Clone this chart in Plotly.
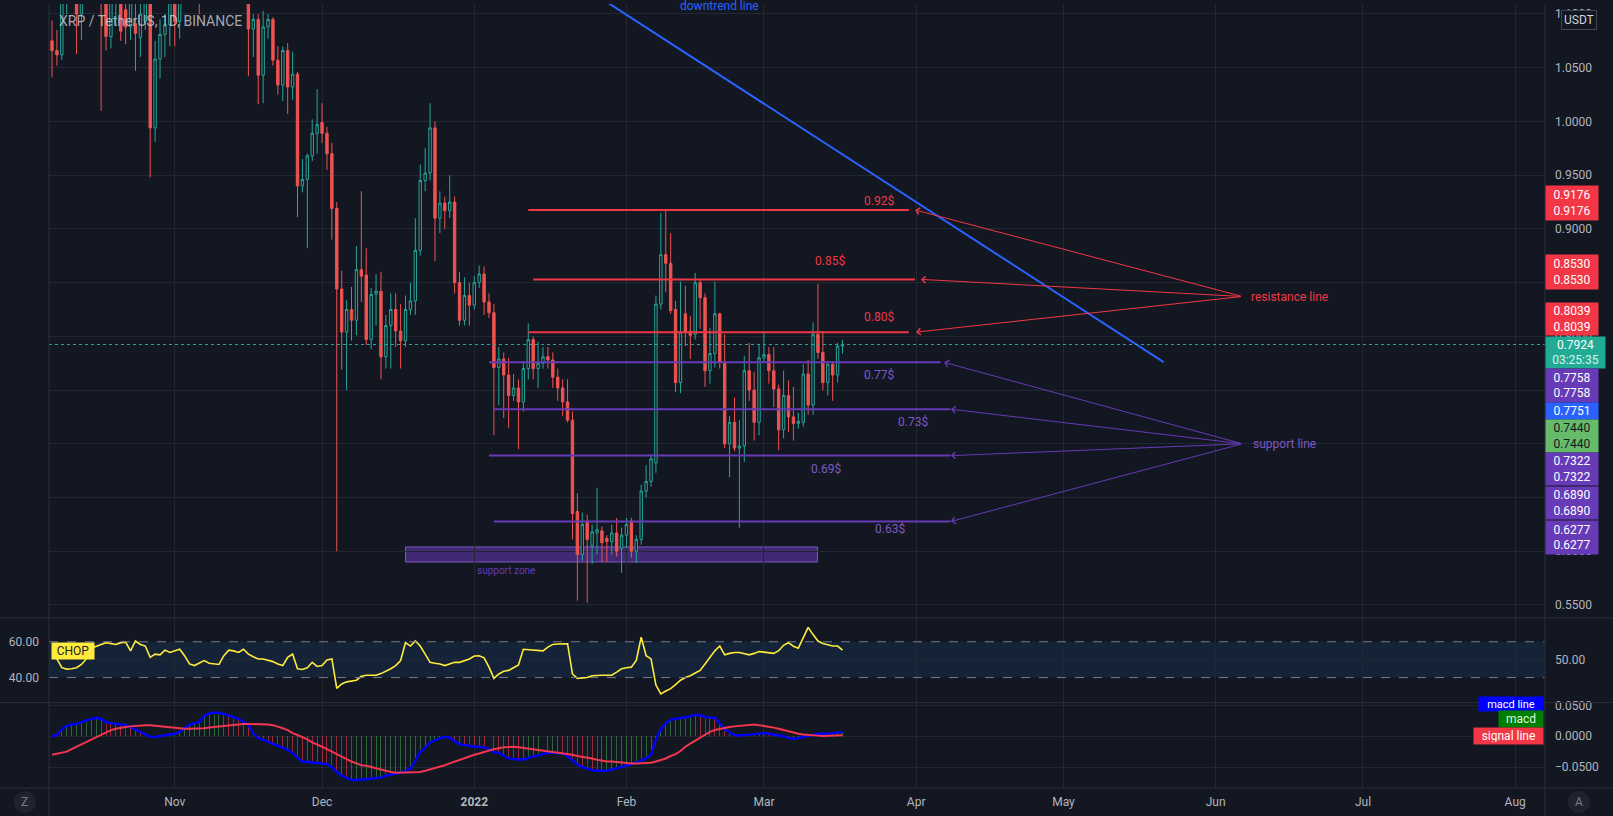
import pandas as pd
import plotly.graph_objects as go

# ---------------- data ----------------
first_day = "2021-10-07"

open_ = [1.075, 1.066, 1.062, 1.125, 1.140, 1.150, 1.100, 1.130, 1.150, 1.135,
         1.125, 1.115, 1.079, 1.115, 1.125, 1.104, 1.088, 1.091, 1.078, 1.093,
         1.115, 0.994, 1.058, 1.081, 1.090, 1.120, 1.093, 1.140, 1.150, 1.190,
         1.180, 1.160, 1.220, 1.245, 1.260, 1.250, 1.200, 1.220, 1.230, 1.210,
         1.175, 1.086, 1.095, 1.043, 1.088, 1.095, 1.057, 1.034, 1.066, 1.032,
         1.044, 0.940, 0.946, 0.968, 0.989, 0.999, 0.989, 0.970, 0.919, 0.844,
         0.804, 0.825, 0.815, 0.862, 0.857, 0.797, 0.839, 0.842, 0.781, 0.810,
         0.825, 0.805, 0.796, 0.825, 0.833, 0.880, 0.945, 0.952, 0.994, 0.910,
         0.924, 0.917, 0.925, 0.850, 0.815, 0.838, 0.829, 0.850, 0.858, 0.832,
         0.822, 0.771, 0.779, 0.764, 0.745, 0.752, 0.739, 0.770, 0.797, 0.770,
         0.775, 0.781, 0.778, 0.762, 0.752, 0.739, 0.722, 0.637, 0.597, 0.628,
         0.605, 0.617, 0.619, 0.612, 0.609, 0.617, 0.603, 0.615, 0.628, 0.600,
         0.611, 0.656, 0.665, 0.682, 0.830, 0.876, 0.868, 0.825, 0.757, 0.821,
         0.805, 0.802, 0.850, 0.836, 0.768, 0.784, 0.821, 0.776, 0.700, 0.720,
         0.696, 0.698, 0.768, 0.750, 0.720, 0.780, 0.783, 0.768, 0.751, 0.713,
         0.745, 0.725, 0.719, 0.720, 0.765, 0.736, 0.802, 0.785, 0.757, 0.774,
         0.764, 0.791]
high_ = [1.094, 1.085, 1.135, 1.150, 1.160, 1.155, 1.140, 1.165, 1.170, 1.150,
         1.140, 1.125, 1.125, 1.140, 1.135, 1.112, 1.120, 1.115, 1.112, 1.125,
         1.125, 1.075, 1.095, 1.100, 1.125, 1.130, 1.150, 1.165, 1.200, 1.215,
         1.195, 1.230, 1.260, 1.280, 1.350, 1.270, 1.240, 1.250, 1.240, 1.220,
         1.185, 1.100, 1.100, 1.103, 1.100, 1.097, 1.070, 1.070, 1.073, 1.065,
         1.046, 0.965, 0.970, 1.002, 1.030, 1.017, 0.995, 0.980, 0.925, 0.861,
         0.834, 0.846, 0.884, 0.935, 0.882, 0.845, 0.858, 0.860, 0.820, 0.840,
         0.840, 0.830, 0.838, 0.850, 0.910, 0.960, 0.975, 1.017, 1.000, 0.935,
         0.930, 0.950, 0.930, 0.860, 0.855, 0.850, 0.856, 0.866, 0.865, 0.840,
         0.830, 0.790, 0.785, 0.780, 0.765, 0.760, 0.777, 0.812, 0.800, 0.795,
         0.790, 0.790, 0.785, 0.770, 0.760, 0.760, 0.730, 0.654, 0.636, 0.634,
         0.625, 0.659, 0.623, 0.615, 0.625, 0.631, 0.622, 0.631, 0.631, 0.615,
         0.662, 0.680, 0.690, 0.838, 0.915, 0.9176, 0.896, 0.833, 0.851, 0.847,
         0.819, 0.859, 0.853, 0.840, 0.808, 0.851, 0.822, 0.802, 0.726, 0.743,
         0.722, 0.782, 0.794, 0.767, 0.793, 0.804, 0.790, 0.790, 0.755, 0.768,
         0.759, 0.753, 0.729, 0.774, 0.778, 0.813, 0.849, 0.805, 0.777, 0.777,
         0.794, 0.797]
low_ = [1.041, 1.052, 1.057, 1.100, 1.110, 1.063, 1.076, 1.115, 1.120, 1.110,
        1.010, 1.066, 1.068, 1.090, 1.075, 1.072, 1.076, 1.047, 1.060, 1.085,
        0.948, 0.981, 1.040, 1.060, 1.070, 1.070, 1.077, 1.120, 1.130, 1.160,
        1.100, 1.150, 1.200, 1.220, 1.230, 1.160, 1.180, 1.200, 1.190, 1.150,
        1.042, 1.060, 1.016, 1.017, 1.077, 1.052, 1.025, 1.019, 1.007, 1.020,
        0.911, 0.934, 0.882, 0.963, 0.970, 0.980, 0.955, 0.890, 0.600, 0.769,
        0.750, 0.796, 0.801, 0.832, 0.792, 0.788, 0.810, 0.760, 0.770, 0.770,
        0.790, 0.770, 0.790, 0.820, 0.820, 0.875, 0.935, 0.945, 0.870, 0.896,
        0.900, 0.910, 0.840, 0.810, 0.810, 0.810, 0.825, 0.845, 0.820, 0.817,
        0.708, 0.736, 0.724, 0.715, 0.740, 0.695, 0.730, 0.760, 0.760, 0.752,
        0.770, 0.770, 0.752, 0.740, 0.726, 0.720, 0.611, 0.554, 0.591, 0.552,
        0.588, 0.597, 0.590, 0.590, 0.597, 0.595, 0.580, 0.603, 0.594, 0.589,
        0.606, 0.650, 0.660, 0.673, 0.825, 0.841, 0.821, 0.748, 0.747, 0.791,
        0.779, 0.797, 0.807, 0.753, 0.756, 0.771, 0.770, 0.696, 0.669, 0.693,
        0.622, 0.683, 0.740, 0.703, 0.708, 0.776, 0.756, 0.734, 0.694, 0.705,
        0.711, 0.703, 0.714, 0.716, 0.727, 0.727, 0.779, 0.750, 0.745, 0.740,
        0.757, 0.784]
close_ = [1.066, 1.062, 1.125, 1.140, 1.150, 1.100, 1.130, 1.150, 1.135, 1.125,
          1.115, 1.079, 1.115, 1.125, 1.084, 1.088, 1.112, 1.082, 1.100, 1.115,
          0.994, 1.058, 1.081, 1.090, 1.115, 1.093, 1.140, 1.150, 1.190, 1.180,
          1.160, 1.220, 1.245, 1.260, 1.250, 1.200, 1.220, 1.230, 1.210, 1.175,
          1.086, 1.095, 1.043, 1.088, 1.095, 1.057, 1.034, 1.066, 1.032, 1.044,
          0.940, 0.946, 0.968, 0.989, 0.997, 0.989, 0.970, 0.919, 0.844, 0.804,
          0.825, 0.815, 0.862, 0.856, 0.797, 0.839, 0.842, 0.781, 0.810, 0.825,
          0.805, 0.796, 0.825, 0.833, 0.880, 0.945, 0.952, 0.994, 0.910, 0.924,
          0.917, 0.925, 0.850, 0.815, 0.838, 0.829, 0.850, 0.858, 0.832, 0.822,
          0.771, 0.779, 0.764, 0.745, 0.752, 0.739, 0.770, 0.797, 0.770, 0.775,
          0.781, 0.778, 0.762, 0.752, 0.739, 0.722, 0.635, 0.597, 0.625, 0.611,
          0.618, 0.620, 0.608, 0.609, 0.617, 0.600, 0.615, 0.625, 0.600, 0.611,
          0.656, 0.665, 0.686, 0.830, 0.876, 0.868, 0.824, 0.757, 0.804, 0.804,
          0.801, 0.850, 0.836, 0.768, 0.784, 0.821, 0.776, 0.700, 0.720, 0.696,
          0.698, 0.768, 0.750, 0.720, 0.780, 0.783, 0.768, 0.751, 0.713, 0.745,
          0.725, 0.719, 0.721, 0.765, 0.736, 0.802, 0.785, 0.757, 0.774, 0.764,
          0.791, 0.7924]

chop = [54, 50.4, 45.5, 44.7, 44.9, 45.5, 47.3, 50.4, 56.4, 57.6,
        58.5, 59.5, 58.9, 58.5, 59.5, 59.8, 54.9, 60.4, 58.5, 57.6,
        51.3, 53.1, 52.7, 55.3, 54, 54.9, 55.8, 52.2, 47.6, 46.7,
        48, 49.5, 48, 47.6, 47.3, 52.2, 55.3, 54.9, 54, 55.8,
        53.1, 51.6, 50.4, 50.4, 49.8, 48.9, 47.6, 46.7, 51.3, 53.1,
        44.9, 44.5, 45.5, 48.5, 46.2, 46.7, 49.8, 50.4, 34, 36.4,
        37.6, 38, 38.5, 40.7, 41.3, 41.3, 41.3, 42.2, 43.5, 44.9,
        46.7, 49.5, 59.5, 57.6, 60.4, 57.6, 53.1, 48.5, 48, 47.6,
        46.7, 47.5, 48.5, 48.5, 49.5, 50.4, 52, 52.2, 51, 45.8,
        39.5, 42, 43.5, 44, 45.5, 47, 55.8, 55.5, 55.3, 55,
        54.9, 57, 58.5, 58.7, 58.8, 58.9, 42, 39.5, 39.8, 40,
        41, 41.3, 41.3, 41.3, 41.3, 43, 44.9, 45.5, 45.8, 49.5,
        62.5, 52.2, 50.4, 35.8, 30.9, 32.5, 33.8, 36, 38.5, 40,
        41, 42.5, 44, 47.6, 51, 54.9, 57.6, 52.7, 53.5, 54,
        54, 53.5, 52.7, 53.5, 54.5, 54.2, 54, 53.5, 55, 58,
        59.5, 57.5, 56.4, 62, 68, 64, 60.4, 59, 58.2, 57.6,
        57.6, 55.3]

macd_line = [0.000, 0.002, 0.012, 0.017, 0.019, 0.020, 0.023, 0.026, 0.028, 0.030,
             0.028, 0.023, 0.021, 0.020, 0.019, 0.018, 0.015, 0.011, 0.008, 0.004,
             -0.001, -0.001, 0.000, 0.001, 0.002, 0.004, 0.007, 0.013, 0.019, 0.021,
             0.023, 0.033, 0.037, 0.038, 0.038, 0.036, 0.034, 0.031, 0.028, 0.024,
             0.019, 0.004, -0.003, -0.006, -0.009, -0.012, -0.015, -0.019, -0.022, -0.027,
             -0.035, -0.041, -0.042, -0.043, -0.043, -0.044, -0.045, -0.050, -0.058, -0.064,
             -0.068, -0.071, -0.071, -0.070, -0.070, -0.069, -0.068, -0.067, -0.064, -0.062,
             -0.060, -0.059, -0.057, -0.052, -0.040, -0.025, -0.019, -0.010, -0.006, -0.003,
             -0.001, -0.002, -0.008, -0.013, -0.014, -0.016, -0.017, -0.017, -0.018, -0.021,
             -0.026, -0.027, -0.031, -0.036, -0.037, -0.038, -0.038, -0.035, -0.033, -0.031,
             -0.029, -0.027, -0.027, -0.027, -0.028, -0.032, -0.039, -0.046, -0.050, -0.053,
             -0.055, -0.056, -0.056, -0.056, -0.054, -0.052, -0.050, -0.047, -0.045, -0.043,
             -0.039, -0.036, -0.030, -0.005, 0.012, 0.021, 0.027, 0.028, 0.029, 0.030,
             0.032, 0.035, 0.034, 0.031, 0.031, 0.030, 0.021, 0.011, 0.006, 0.002,
             0.001, 0.002, 0.002, 0.003, 0.005, 0.005, 0.004, 0.003, 0.002, 0.000,
             -0.003, -0.004, -0.003, -0.001, 0.001, 0.003, 0.004, 0.004, 0.004, 0.005,
             0.006, 0.007]
signal_line = [-0.030, -0.028, -0.026, -0.025, -0.021, -0.017, -0.013, -0.009, -0.005, -0.001,
               0.003, 0.006, 0.010, 0.012, 0.014, 0.015, 0.016, 0.017, 0.0175, 0.018,
               0.018, 0.017, 0.016, 0.015, 0.014, 0.013, 0.0125, 0.012, 0.012, 0.012,
               0.012, 0.013, 0.014, 0.015, 0.016, 0.017, 0.018, 0.019, 0.020, 0.020,
               0.020, 0.020, 0.020, 0.020, 0.019, 0.018, 0.016, 0.013, 0.010, 0.005,
               0.002, -0.001, -0.005, -0.010, -0.013, -0.017, -0.021, -0.025, -0.029, -0.033,
               -0.038, -0.041, -0.044, -0.047, -0.048, -0.050, -0.053, -0.055, -0.057, -0.058,
               -0.059, -0.059, -0.059, -0.059, -0.059, -0.058, -0.056, -0.054, -0.052, -0.049,
               -0.047, -0.044, -0.041, -0.038, -0.036, -0.033, -0.030, -0.028, -0.025, -0.023,
               -0.021, -0.019, -0.018, -0.0175, -0.017, -0.018, -0.019, -0.020, -0.021, -0.022,
               -0.023, -0.025, -0.026, -0.027, -0.028, -0.029, -0.030, -0.032, -0.033, -0.035,
               -0.036, -0.038, -0.040, -0.041, -0.041, -0.042, -0.043, -0.044, -0.044, -0.044,
               -0.044, -0.044, -0.043, -0.041, -0.039, -0.036, -0.032, -0.029, -0.024, -0.017,
               -0.012, -0.007, -0.002, 0.003, 0.007, 0.010, 0.012, 0.014, 0.015, 0.016,
               0.017, 0.018, 0.0185, 0.019, 0.018, 0.017, 0.016, 0.014, 0.012, 0.010,
               0.008, 0.005, 0.004, 0.003, 0.002, 0.0015, 0.001, 0.0005, 0.0005, 0.001,
               0.0015, 0.0016]

month_ticks = ["2021-11-01", "2021-12-01", "2022-01-01", "2022-02-01", "2022-03-01",
               "2022-04-01", "2022-05-01", "2022-06-01", "2022-07-01", "2022-08-01"]
month_labels = ["Nov", "Dec", "<b>2022</b>", "Feb", "Mar", "Apr", "May", "Jun", "Jul", "Aug"]
price_ticks = [0.55, 0.60, 0.65, 0.70, 0.75, 0.80, 0.85, 0.90, 0.95, 1.00, 1.05, 1.10]
chop_bounds = [40, 60]
chop_mid = [50]
macd_ticks = [-0.05, 0, 0.05]

resistance_levels = [0.9176, 0.8530, 0.8039]
resistance_names = ["0.92$", "0.85$", "0.80$"]
support_levels = [0.7758, 0.7322, 0.6890, 0.6277]
support_names = ["0.77$", "0.73$", "0.69$", "0.63$"]
support_zone_low, support_zone_high = 0.590, 0.604
last_price = 0.7924
countdown = "03:25:35"
blue_level = 0.7751
green_level = 0.7440

# ---------------- drawing geometry (TradingView drawing anchors) ----------------
res_start = ["2022-01-12", "2022-01-13", "2022-01-12"]
res_end = ["2022-03-30 12:00", "2022-03-31 18:00", "2022-03-30 12:00"]
res_tip = ["2022-03-31 19:00", "2022-04-02", "2022-04-01"]
res_label_pos = [("2022-03-24 10:00", 0.926), ("2022-03-14 12:00", 0.8704), ("2022-03-24 10:00", 0.8176)]
sup_start = ["2022-01-04", "2022-01-05", "2022-01-04", "2022-01-05"]
sup_end = ["2022-04-06", "2022-04-08", "2022-04-08", "2022-04-08"]
sup_tip = ["2022-04-06 17:00", "2022-04-08 02:00", "2022-04-08 02:00", "2022-04-08 02:00"]
sup_label_pos = [("2022-03-24 10:00", 0.7639), ("2022-03-31 10:00", 0.7204),
                 ("2022-03-13 14:00", 0.6769), ("2022-03-26 17:00", 0.6204)]
arrow_tail_x = "2022-06-06 10:00"
res_tail_y, sup_tail_y = 0.8371, 0.7000
res_text_pos = ("2022-06-16", 0.8362)
sup_text_pos = ("2022-06-14 22:00", 0.7000)
zone_x = ("2021-12-18", "2022-03-11 22:00")
zone_text_pos = ("2022-01-07 12:00", 0.5825)
trend_x = ["2022-01-15", "2022-05-21 10:00"]
trend_y = [1.1495, 0.776]
trend_text_x = "2022-02-20"

# ---------------- styling / geometry ----------------
BG = "#131722"
GRID = "#232731"
SEP = "#2a2e39"
TXT = "#b2b5be"
FONT = "Roboto, 'Noto Sans', sans-serif"
UP, DOWN = "#26a69a", "#ef5350"
RED, PURPLE = "#f23645", "#673ab7"

W, H = 1613, 816
ML, MR, MT, MB = 49, 68, 0, 28
PW, PH = W - ML - MR, H - MT - MB


def pxx(x):
    return (x - ML) / PW


def pxy(y):
    return 1 - (y - MT) / PH


main_dom = [pxy(617), 1]
chop_dom = [pxy(702), pxy(617)]
macd_dom = [0, pxy(702)]
x_range = ["2021-10-06 09:20", "2022-08-07 01:45"]
chop_range = [26.1, 73.33]

dates = pd.date_range(first_day, periods=len(open_), freq="D")

fig = go.Figure()

fig.add_trace(go.Candlestick(
    x=dates, open=open_, high=high_, low=low_, close=close_,
    increasing=dict(line=dict(color=UP, width=1), fillcolor=BG),
    decreasing=dict(line=dict(color=DOWN, width=1), fillcolor=DOWN),
    whiskerwidth=0, xaxis="x", yaxis="y", hoverinfo="skip", showlegend=False))

# horizontal drawings
rx, ry = [], []
for s, e, lv in zip(res_start, res_end, resistance_levels):
    rx += [s, e, None]
    ry += [lv, lv, None]
fig.add_trace(go.Scatter(x=rx, y=ry, mode="lines", line=dict(color=RED, width=2),
                         xaxis="x", yaxis="y", hoverinfo="skip", showlegend=False))
sx, sy = [], []
for s, e, lv in zip(sup_start, sup_end, support_levels):
    sx += [s, e, None]
    sy += [lv, lv, None]
fig.add_trace(go.Scatter(x=sx, y=sy, mode="lines", line=dict(color=PURPLE, width=2),
                         xaxis="x", yaxis="y", hoverinfo="skip", showlegend=False))
fig.add_trace(go.Scatter(x=trend_x, y=trend_y, mode="lines", line=dict(color="#2962ff", width=2),
                         xaxis="x", yaxis="y", hoverinfo="skip", showlegend=False))

# CHOP
fig.add_trace(go.Scatter(x=dates, y=chop, mode="lines", line=dict(color="#ffeb3b", width=1.6),
                         xaxis="x2", yaxis="y2", hoverinfo="skip", showlegend=False))
# carrier for the right-hand CHOP scale
fig.add_trace(go.Scatter(x=dates, y=chop, mode="lines", line=dict(color="rgba(0,0,0,0)", width=0),
                         xaxis="x2", yaxis="y4", hoverinfo="skip", showlegend=False))

# MACD
hist_colors = []
for k, v in enumerate(macd_line):
    prev = macd_line[k - 1] if k > 0 else v
    hist_colors.append("rgba(56,160,70,0.6)" if v >= prev else "rgba(242,54,69,0.6)")
fig.add_trace(go.Bar(x=dates, y=macd_line, marker=dict(color=hist_colors, line=dict(width=0)),
                     width=0.2 * 86400000, xaxis="x3", yaxis="y3", hoverinfo="skip", showlegend=False))
fig.add_trace(go.Scatter(x=dates, y=macd_line, mode="lines", line=dict(color="#0000ff", width=2.4),
                         xaxis="x3", yaxis="y3", hoverinfo="skip", showlegend=False))
fig.add_trace(go.Scatter(x=dates, y=signal_line, mode="lines", line=dict(color="#f23650", width=2),
                         xaxis="x3", yaxis="y3", hoverinfo="skip", showlegend=False))

shapes = []
# support zone
shapes.append(dict(type="rect", xref="x", yref="y", x0=zone_x[0], x1=zone_x[1],
                   y0=support_zone_low, y1=support_zone_high, layer="below",
                   fillcolor="rgba(103,58,183,0.55)", line=dict(color="#7e57c2", width=1)))
# last price dotted line
shapes.append(dict(type="line", xref="paper", yref="y", x0=0, x1=1, y0=last_price, y1=last_price,
                   line=dict(color="#26a69a", width=1, dash="dot"), layer="above"))
# CHOP band and dashed bounds
shapes.append(dict(type="rect", xref="paper", yref="y2", x0=0, x1=1, y0=chop_bounds[0], y1=chop_bounds[1],
                   fillcolor="rgba(33,150,243,0.1)", line=dict(width=0), layer="below"))
for lv in chop_bounds:
    shapes.append(dict(type="line", xref="paper", yref="y2", x0=0, x1=1, y0=lv, y1=lv,
                       line=dict(color="#787b86", width=1, dash="dash")))
# pane separators and borders
for y in (617, 702, 788):
    shapes.append(dict(type="line", xref="paper", yref="paper", x0=pxx(0), x1=pxx(W),
                       y0=pxy(y), y1=pxy(y), line=dict(color=SEP, width=1)))
for x in (ML, W - MR):
    shapes.append(dict(type="line", xref="paper", yref="paper", x0=pxx(x), x1=pxx(x),
                       y0=pxy(0), y1=pxy(H), line=dict(color=SEP, width=1)))
# Z / A buttons
for cx in (25, 1579):
    shapes.append(dict(type="circle", xref="paper", yref="paper", x0=pxx(cx - 11), x1=pxx(cx + 11),
                       y0=pxy(813), y1=pxy(791), fillcolor="#1f232e", line=dict(width=0)))

ann = []


def box(text, cy, bg, fg="#ffffff", w=48, h=13, x=1.0, anchor="left", size=12):
    ann.append(dict(text=text, xref="paper", yref="paper", x=x, y=pxy(cy), xanchor=anchor,
                    yanchor="middle", showarrow=False, bgcolor=bg, borderpad=2, width=w, height=h,
                    font=dict(family=FONT, size=size, color=fg), align="center"))


def two(v):
    return f"{v:.4f}<br>{v:.4f}"


# right price-scale labels
box(two(resistance_levels[0]), 200, RED, h=30)
box(two(resistance_levels[1]), 269, RED, h=30)
box(two(resistance_levels[2]), 317, RED, h=28)
box(f"{last_price:.4f}<br><span style='color:#d8f3ef'>{countdown}</span>", 350.5, "#22ab94", w=55, h=27)
box(two(support_levels[0]), 383.5, PURPLE, h=29)
box(f"{blue_level:.4f}", 409, "#2962ff", h=12)
box(two(green_level), 434.5, "#66bb6a", fg="#131722", h=28)
box(two(support_levels[1]), 467.5, PURPLE, h=28)
box(two(support_levels[2]), 501.5, PURPLE, h=28)
box(two(support_levels[3]), 536, PURPLE, h=29)
# MACD legend boxes
box("macd line", 704, "#0000ff", w=60, h=10, x=pxx(1544), anchor="right", size=11)
box("macd", 719, "#008000", fg="#dff5df", w=40, h=12, x=pxx(1544), anchor="right", size=12)
box("signal line", 735.5, RED, w=65, h=12, x=pxx(1544), anchor="right", size=12)
# CHOP tag
box("CHOP", 650, "#ffeb3b", fg="#1e222d", w=38, h=12, x=pxx(51), anchor="left", size=12)
# USDT box
ann.append(dict(text="USDT", xref="paper", yref="paper", x=pxx(1561), y=pxy(16.5), xanchor="left",
                yanchor="middle", showarrow=False, bgcolor=BG, bordercolor="#434651", borderwidth=1,
                borderpad=2, font=dict(family=FONT, size=12, color="#d1d4dc")))
# Z / A letters
for cx, t in ((25, "Z"), (1579, "A")):
    ann.append(dict(text=t, xref="paper", yref="paper", x=pxx(cx), y=pxy(802), showarrow=False,
                    xanchor="center", yanchor="middle", font=dict(family=FONT, size=12, color="#787b86")))
# title
ann.append(dict(text="XRP / TetherUS, 1D, BINANCE", xref="paper", yref="paper", x=pxx(57), y=pxy(17),
                xanchor="left", yanchor="middle", showarrow=False,
                font=dict(family=FONT, size=14, color="rgba(209,212,220,0.78)")))
# drawing texts
for (x, y), t in zip(res_label_pos, resistance_names):
    ann.append(dict(text=t, x=x, y=y, xref="x", yref="y", showarrow=False,
                    font=dict(family=FONT, size=12, color=RED)))
for (x, y), t in zip(sup_label_pos, support_names):
    ann.append(dict(text=t, x=x, y=y, xref="x", yref="y", showarrow=False,
                    font=dict(family=FONT, size=12, color="#7e57c2")))
ann.append(dict(text="resistance line", x=res_text_pos[0], y=res_text_pos[1], xref="x", yref="y",
                showarrow=False, font=dict(family=FONT, size=12, color=RED)))
ann.append(dict(text="support line", x=sup_text_pos[0], y=sup_text_pos[1], xref="x", yref="y",
                showarrow=False, font=dict(family=FONT, size=12, color="#7e57c2")))
ann.append(dict(text="support zone", x=zone_text_pos[0], y=zone_text_pos[1], xref="x", yref="y",
                showarrow=False, font=dict(family=FONT, size=10, color="#673ab7")))
ann.append(dict(text="downtrend line", x=trend_text_x, y=pxy(2), xref="x", yref="paper",
                xanchor="center", yanchor="middle",
                showarrow=False, font=dict(family=FONT, size=12, color="#2962ff")))
# arrows
for tip, lv in zip(res_tip, resistance_levels):
    ann.append(dict(text="", x=tip, y=lv, xref="x", yref="y", ax=arrow_tail_x, ay=res_tail_y,
                    axref="x", ayref="y", showarrow=True, arrowhead=4, arrowsize=1.3,
                    arrowwidth=1, arrowcolor=RED, standoff=0, startstandoff=0))
for tip, lv in zip(sup_tip, support_levels):
    ann.append(dict(text="", x=tip, y=lv, xref="x", yref="y", ax=arrow_tail_x, ay=sup_tail_y,
                    axref="x", ayref="y", showarrow=True, arrowhead=4, arrowsize=1.3,
                    arrowwidth=1, arrowcolor=PURPLE, standoff=0, startstandoff=0))

axis_font = dict(family=FONT, size=12, color=TXT)
xcommon = dict(type="date", range=x_range, showgrid=True, gridcolor=GRID, gridwidth=1,
               tickvals=month_ticks, ticktext=month_labels, zeroline=False, showline=False,
               fixedrange=True)

fig.update_layout(
    width=W, height=H, autosize=False,
    margin=dict(l=ML, r=MR, t=MT, b=MB, pad=0),
    paper_bgcolor=BG, plot_bgcolor=BG,
    font=dict(family=FONT, color=TXT, size=12),
    showlegend=False, bargap=0, hovermode=False,
    xaxis=dict(domain=[0, 1], anchor="y", showticklabels=False, rangeslider=dict(visible=False), **xcommon),
    xaxis2=dict(domain=[0, 1], anchor="y2", showticklabels=False, matches="x", **xcommon),
    xaxis3=dict(domain=[0, 1], anchor="y3", showticklabels=True, matches="x", tickfont=axis_font,
                ticks="", ticklabelstandoff=5, **xcommon),
    yaxis=dict(domain=main_dom, anchor="x", side="right", range=[0.5380, 1.1093],
               tickvals=price_ticks, tickformat=".4f", showgrid=True, gridcolor=GRID,
               zeroline=False, tickfont=axis_font, ticks="", ticklabelstandoff=9, fixedrange=True),
    yaxis2=dict(domain=chop_dom, anchor="x2", side="left", range=chop_range,
                tickvals=chop_bounds, tickformat=".2f", showgrid=False, zeroline=False,
                tickfont=axis_font, ticks="", ticklabelstandoff=9, fixedrange=True),
    yaxis4=dict(overlaying="y2", anchor="x2", side="right", range=chop_range,
                tickvals=chop_mid, tickformat=".2f", showgrid=True, gridcolor=GRID, zeroline=False,
                tickfont=axis_font, ticks="", ticklabelstandoff=9, fixedrange=True),
    yaxis3=dict(domain=macd_dom, anchor="x3", side="right", range=[-0.0839, 0.0548],
                tickvals=macd_ticks, tickformat=".4f", showgrid=True, gridcolor=GRID,
                zeroline=False, tickfont=axis_font, ticks="", ticklabelstandoff=9, fixedrange=True),
    shapes=shapes, annotations=ann,
)

fig.write_html("out.html", config=dict(displayModeBar=False, staticPlot=True),
               post_script="document.body.style.margin='0';document.body.style.overflow='hidden';")
